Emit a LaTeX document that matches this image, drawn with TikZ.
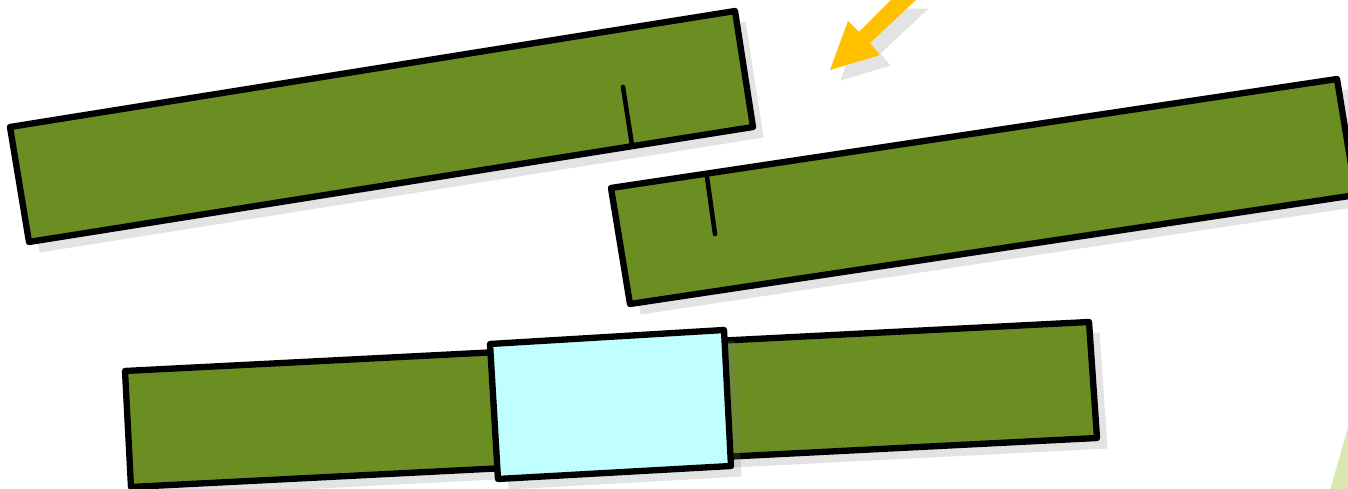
\documentclass[tikz,border=0pt]{standalone}
\usetikzlibrary{shadows}

\definecolor{barGreen}{RGB}{107,142,35}
\definecolor{jointCyan}{RGB}{192,255,255}
\definecolor{arrowGold}{RGB}{255,192,0}
\definecolor{leafGreen}{RGB}{216,232,176}

\tikzset{
  softshadow/.style={drop shadow={opacity=0.22, shadow xshift=3pt, shadow yshift=-3pt}},
  bar/.style={draw=black, fill=barGreen, line width=1.8pt, line join=round, softshadow},
  joint/.style={draw=black, fill=jointCyan, line width=1.8pt, line join=round, softshadow},
  cutline/.style={draw=black, line width=1.3pt, line cap=round}
}

\begin{document}
\begin{tikzpicture}[x=0.01cm, y=-0.01cm]
    \useasboundingbox (0,0) rectangle (1348,489);
    \clip (0,0) rectangle (1348,489);

    % leaf corner
    \fill[leafGreen] (1349,424) -- (1330,490) -- (1349,490) -- cycle;

    % pointer arrow
    \fill[arrowGold, softshadow] (830,70) -- (848,21) -- (859,32) -- (893,-2) -- (918,-2) -- (870,43) -- (880,55) -- cycle;

    % upper left bar with cut
    \draw[bar] (10,127) -- (735,11) -- (753,127) -- (29,242) -- cycle;
    \draw[cutline] (623,87) -- (632,145);

    % upper right bar with cut
    \draw[bar] (611,188) -- (1337,79) -- (1356,195) -- (630,304) -- cycle;
    \draw[cutline] (707,177) -- (715,234);

    % joined bar with sleeve
    \draw[bar] (125,371) -- (1089,322) -- (1097,438) -- (131,487) -- cycle;
    \draw[joint] (490,344) -- (724,330) -- (731,466) -- (498,479) -- cycle;
\end{tikzpicture}
\end{document}
